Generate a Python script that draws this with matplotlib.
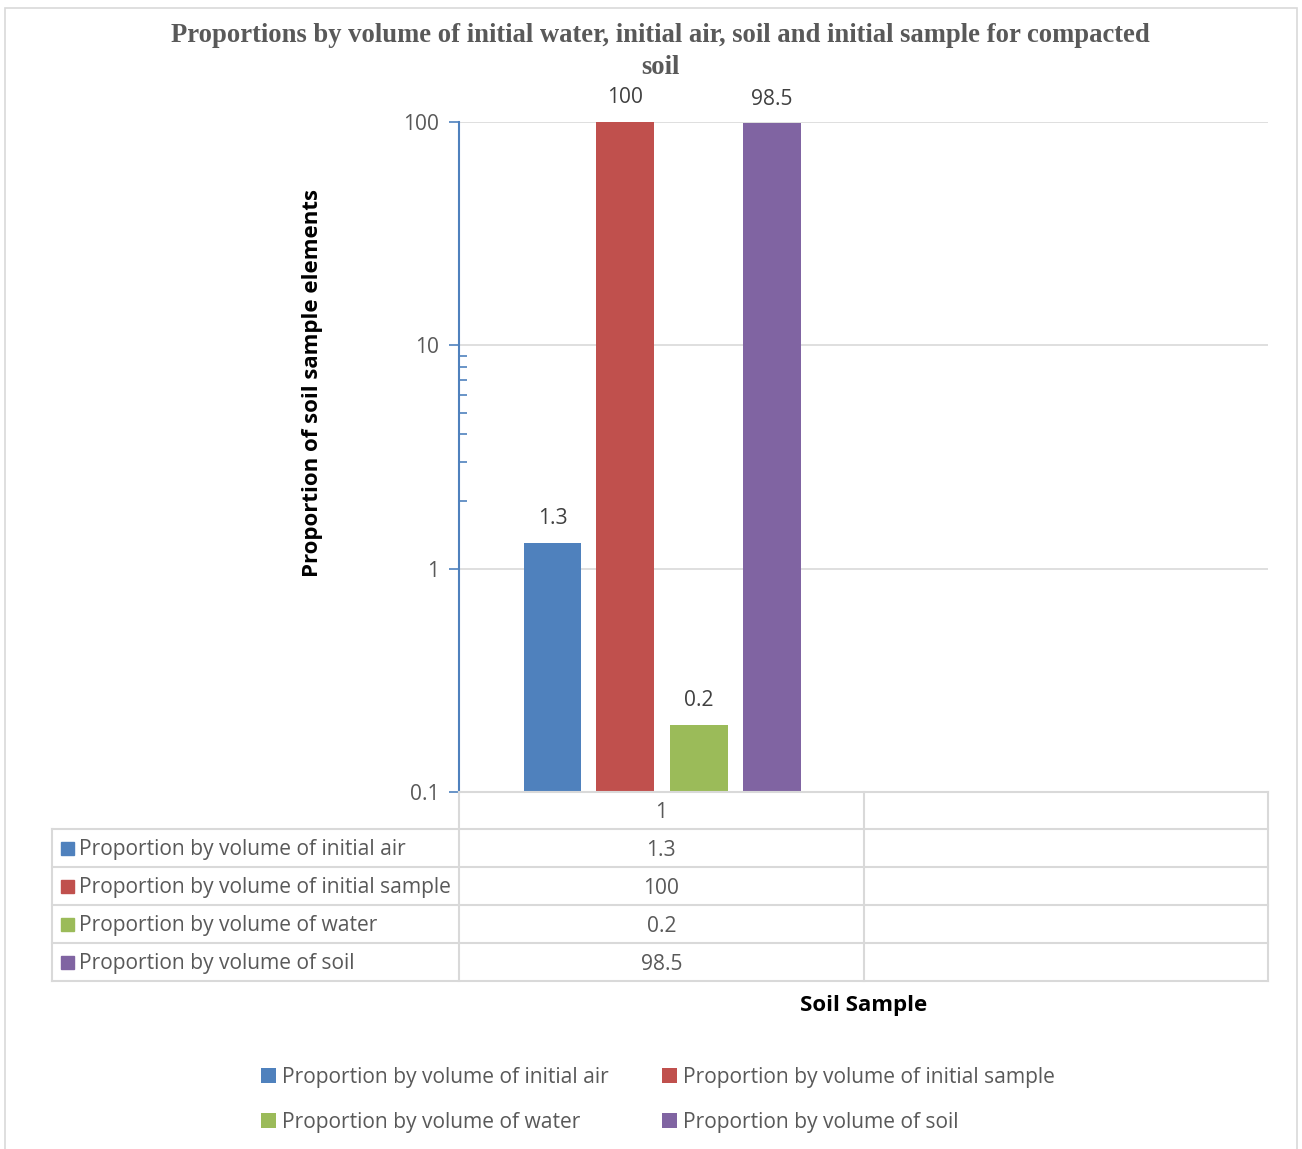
import matplotlib.pyplot as plt
from matplotlib.patches import Rectangle
from matplotlib.lines import Line2D
from matplotlib.ticker import FixedLocator, NullFormatter
import matplotlib.transforms as mtransforms

# data
series_names = [
    "Proportion by volume of initial air",
    "Proportion by volume of initial sample",
    "Proportion by volume of water",
    "Proportion by volume of soil",
]
series_values = [1.3, 100, 0.2, 98.5]
categories = ["1", ""]
colors = ["#4F81BD", "#C0504D", "#9BBB59", "#8064A2"]

W, H = 1302, 1149
grey = "#595959"
line_grey = "#D9D9D9"
plt.rcParams['font.family'] = ['Open Sans', 'DejaVu Sans']
fs = 15.1

fig = plt.figure(figsize=(W / 100, H / 100), dpi=100)


def px(x, y):
    # pixel position -> figure fraction
    return x / W, 1 - y / H


# outer frame
fig.add_artist(Rectangle(px(5, 1160), 1292 / W, (1160 - 8) / H, transform=fig.transFigure,
                         fill=False, edgecolor=line_grey, lw=1.2))

left, right, top, bottom = 459, 1268, 122, 792
ax = fig.add_axes([left / W, 1 - bottom / H, (right - left) / W, (bottom - top) / H])

bar_w = 0.143
offsets = [-0.269, -0.089, 0.093, 0.274]
for i, (name, val) in enumerate(zip(series_names, series_values)):
    x = 0.5 + offsets[i]
    ax.bar(x, val, width=bar_w, color=colors[i], label=name, zorder=3)
    ax.annotate(f"{val:g}", (x, val), xytext=(0, 10), textcoords="offset points",
                ha="center", va="bottom", fontsize=fs, color="#404040")

ax.set_yscale("log")
ax.set_ylim(0.1, 100)
ax.set_xlim(0, len(categories))
ax.yaxis.set_major_locator(FixedLocator([0.1, 1, 10, 100]))
ax.set_yticklabels(["0.1", "1", "10", "100"])
ax.yaxis.set_minor_locator(FixedLocator([2, 3, 4, 5, 6, 7, 8, 9]))
ax.yaxis.set_minor_formatter(NullFormatter())
ax.tick_params(axis="y", which="major", direction="out", length=7, color="#4F81BD",
               labelsize=fs, labelcolor=grey, pad=7, width=1.2)
ax.tick_params(axis="y", which="minor", direction="in", length=6, color="#4F81BD", width=1.2)
ax.set_xticks([])
ax.grid(axis="y", which="major", color=line_grey, lw=1.2, zorder=0)
for s in ["top", "right", "bottom"]:
    ax.spines[s].set_visible(False)
ax.spines["left"].set_color("#4F81BD")
ax.spines["left"].set_linewidth(1.5)
ax.spines["left"].set_zorder(4)

ax.set_ylabel("Proportion of soil sample elements", fontsize=16, fontweight="bold",
              color="black", labelpad=0, va="center")
ax.yaxis.set_label_coords((313 - left) / (right - left), (bottom - 383) / (bottom - top))

fig.text(*px(660, 36), "Proportions by volume of initial water, initial air, soil and initial sample for compacted",
         family="Liberation Serif", fontweight="bold", fontsize=19.2, color=grey,
         ha="center", va="center")
fig.text(*px(660, 67), "soil", family="Liberation Serif", fontweight="bold", fontsize=19.2,
         color=grey, ha="center", va="center")

# data table below the axis
tr = mtransforms.blended_transform_factory(ax.transData, fig.transFigure)
row_y = [792, 829, 867, 905, 943, 981]
tbl_left = 52


def hline(x0, x1, y):
    fig.add_artist(Line2D([x0 / W, x1 / W], [1 - y / H] * 2, transform=fig.transFigure,
                          color=line_grey, lw=1.5))


def vline(x, y0, y1):
    fig.add_artist(Line2D([x / W] * 2, [1 - y0 / H, 1 - y1 / H], transform=fig.transFigure,
                          color=line_grey, lw=1.5))


hline(left, right, row_y[0])
for y in row_y[1:]:
    hline(tbl_left, right, y)
vline(tbl_left, row_y[1], row_y[-1])
for x in [left, 864, right]:
    vline(x, row_y[0], row_y[-1])

for j, cat in enumerate(categories):
    fig.text(j + 0.5, 1 - ((row_y[0] + row_y[1]) / 2 + 2) / H, cat, transform=tr,
             ha="center", va="center", fontsize=fs, color=grey)

for i, (name, val) in enumerate(zip(series_names, series_values)):
    yc = (row_y[i + 1] + row_y[i + 2]) / 2
    fig.add_artist(Rectangle(px(61, yc + 7), 13 / W, 13 / H, transform=fig.transFigure,
                             color=colors[i]))
    fig.text(*px(79, yc + 2), name, ha="left", va="center", fontsize=fs, color=grey)
    fig.text(0.5, 1 - (yc + 2) / H, f"{val:g}", transform=tr, ha="center", va="center",
             fontsize=fs, color=grey)

fig.text(*px(864, 1005), "Soil Sample", ha="center", va="center", fontsize=16,
         fontweight="bold", color="black")

# legend, filled row by row like the reference
handles, labels = ax.get_legend_handles_labels()
order = [0, 2, 1, 3]
leg = fig.legend([handles[k] for k in order], [labels[k] for k in order],
                 loc="upper left", bbox_to_anchor=px(261, 1067), ncol=2,
                 frameon=False, fontsize=fs, handlelength=0.7, handleheight=0.7,
                 handletextpad=0.3, columnspacing=2.55, labelspacing=1.15,
                 labelcolor=grey, borderaxespad=0, borderpad=0)

fig.savefig("out.png", dpi=100)
